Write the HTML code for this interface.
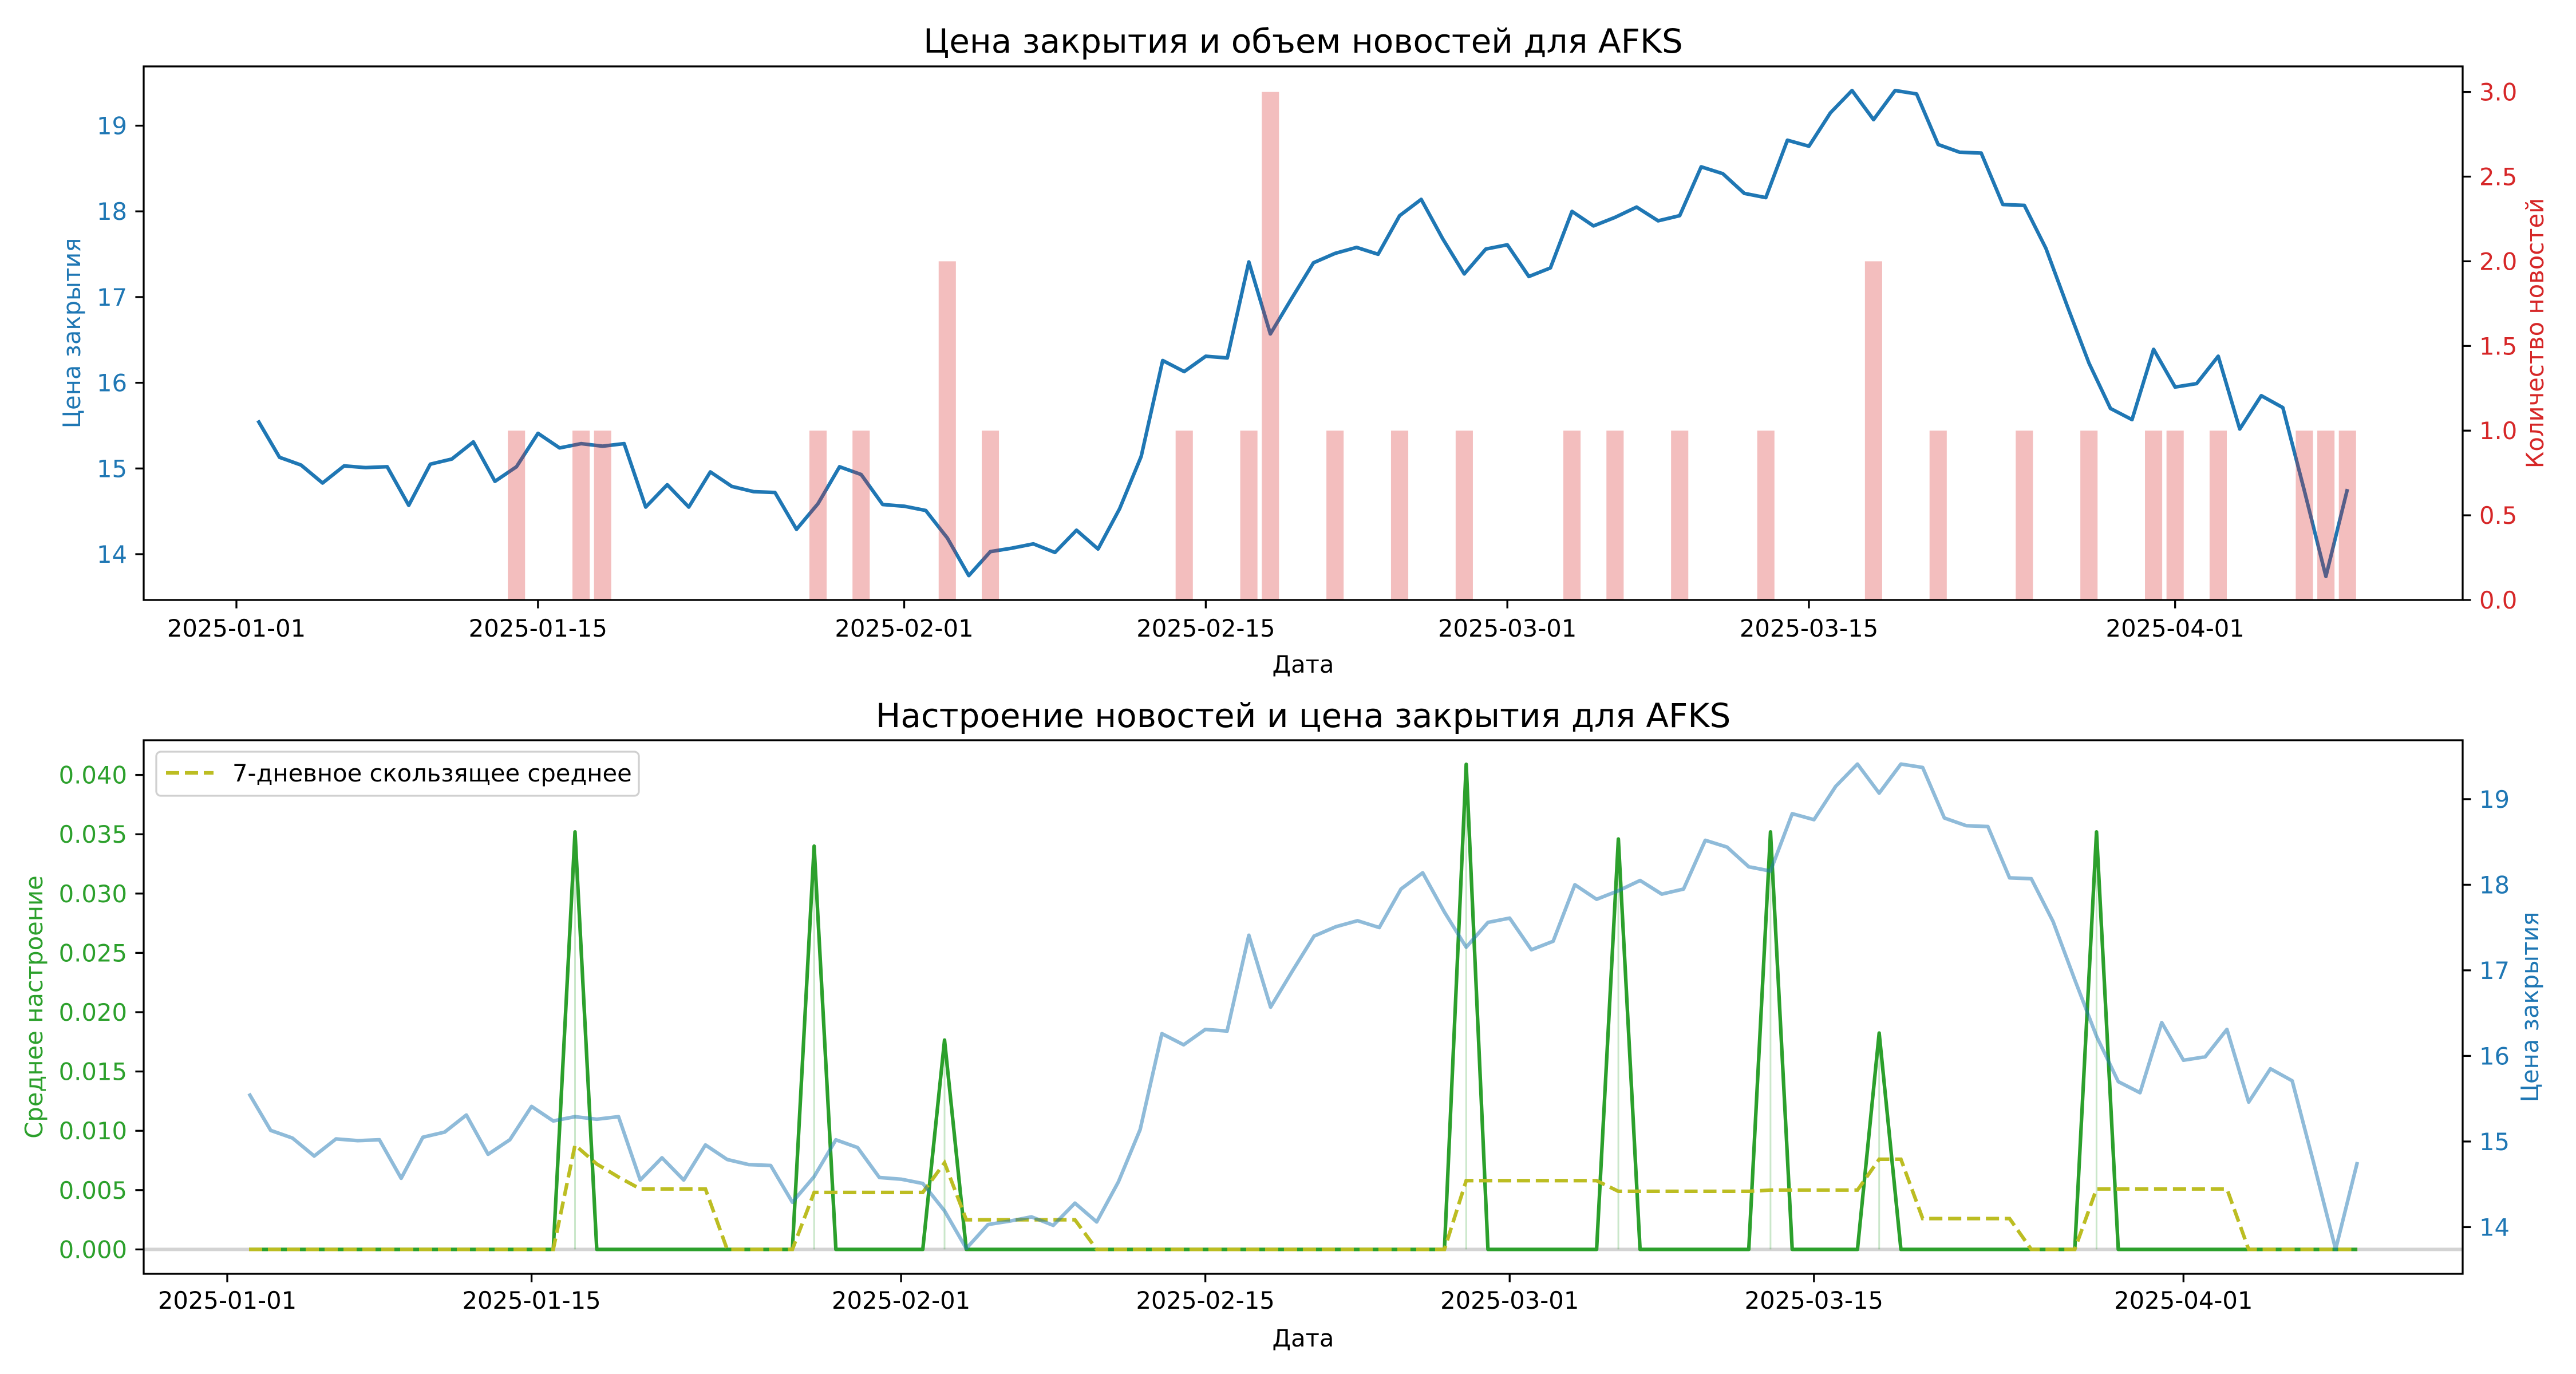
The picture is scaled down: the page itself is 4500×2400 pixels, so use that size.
<!DOCTYPE html>
<html><head><meta charset="utf-8"><style>
html,body{margin:0;padding:0;background:#fff;}
svg{display:block;font-family:"DejaVu Sans","Liberation Sans",sans-serif;}
</style></head><body>
<svg id="chart" xmlns="http://www.w3.org/2000/svg" width="4500" height="2400" viewBox="0 0 4500 2400">
<rect width="4500" height="2400" fill="#fff"/>
<g id="topPanel"></g>
<g id="botPanel"></g>
</svg>
<script>
// ---- data ----
const closes = [15.56,15.13,15.04,14.83,15.03,15.01,15.02,14.57,15.05,15.11,
15.31,14.85,15.02,15.41,15.24,15.29,15.26,15.29,14.55,14.81,
14.55,14.96,14.79,14.73,14.72,14.29,14.59,15.02,14.93,14.58,
14.56,14.51,14.19,13.75,14.03,14.07,14.12,14.02,14.28,14.06,
14.53,15.14,16.26,16.13,16.31,16.29,17.41,16.57,16.99,17.40,
17.51,17.58,17.50,17.95,18.14,17.68,17.27,17.56,17.61,17.24,
17.34,18.00,17.83,17.93,18.05,17.89,17.95,18.52,18.44,18.21,
18.16,18.83,18.76,19.15,19.41,19.07,19.41,19.37,18.78,18.69,
18.68,18.08,18.07,17.57,16.89,16.23,15.70,15.57,16.39,15.95,
15.99,16.31,15.46,15.85,15.71,14.74,13.74,14.76];
const newsIdx = [12,15,16,26,28,32,34,43,46,47,50,53,56,61,63,66,70,75,78,82,85,88,89,91,95,96,97];
const newsCounts = [1,1,1,1,1,2,1,1,1,3,1,1,1,1,1,1,1,2,1,1,1,1,1,1,1,1,1];
const sentIdx = [15,26,32,56,63,70,75,85];
const sentValues = [0.0352,0.0340,0.01765,0.0409,0.0346,0.0352,0.01824,0.0352];
const maValues = [0,0,0,0,0,0,0,0,0,0,0,0,0,0,0,
0.0088,0.0072,0.0061,0.0051,0.0051,0.0051,0.0051,
0,0,0,0,
0.0048,0.0048,0.0048,0.0048,0.0048,0.0048,
0.0073,
0.0025,0.0025,0.0025,0.0025,0.0025,0.0025,
0,0,0,0,0,0,0,0,0,0,0,0,0,0,0,0,0,
0.0058,0.0058,0.0058,0.0058,0.0058,0.0058,0.0058,
0.0049,0.0049,0.0049,0.0049,0.0049,0.0049,0.0049,
0.0050,0.0050,0.0050,0.0050,0.0050,
0.0076,0.0076,
0.0026,0.0026,0.0026,0.0026,0.0026,
0,0,0,
0.0051,0.0051,0.0051,0.0051,0.0051,0.0051,0.0051,
0,0,0,0,0,0];
const xTickDays = [0,14,31,45,59,73,90];
const xTickLabels = ["2025-01-01","2025-01-15","2025-02-01","2025-02-15","2025-03-01","2025-03-15","2025-04-01"];
const priceTicks = [14,15,16,17,18,19];
const countTicks = [0,0.5,1,1.5,2,2.5,3];
const sentTicks = [0,0.005,0.01,0.015,0.02,0.025,0.03,0.035,0.04];

// ---- helpers ----
const NS="http://www.w3.org/2000/svg";
function mk(parent,tag,attrs,text){const e=document.createElementNS(NS,tag);for(const k in attrs)e.setAttribute(k,attrs[k]);if(text!==undefined)e.textContent=text;parent.appendChild(e);return e;}
const L=251,R=4302;
const T1=116,B1=1048;
const xT=d=>413+d*37.63;
const yTP=v=>968-(v-14)*149.7;
const yTC=v=>1048-v*295.8;
const T2=1293,B2=2225;
const xB=d=>397+d*37.97;
const yBS=v=>2182.4-v*20720;
const yBP=v=>2143.4-(v-14)*149.5;

const topG=document.getElementById('topPanel'), botG=document.getElementById('botPanel');

// ===== TOP =====
let pts=closes.map((v,i)=>xT(i+1).toFixed(1)+','+yTP(v).toFixed(1)).join(' ');
let pl=mk(topG,'polyline',{points:pts,fill:'none',stroke:'#1f77b4','stroke-width':6.25,'stroke-linejoin':'round'});


newsIdx.forEach((i,k)=>{
  const x=xT(i+1), w=0.8*37.63;
  const b=mk(topG,'rect',{x:x-w/2,y:yTC(newsCounts[k]),width:w,height:B1-yTC(newsCounts[k]),fill:'rgba(214,39,40,0.3)'});
  
  
});
let fr=mk(topG,'rect',{x:L,y:T1,width:R-L,height:B1-T1,fill:'none',stroke:'#000','stroke-width':3.3});


xTickDays.forEach((d,k)=>{
  const x=xT(d);
  mk(topG,'line',{x1:x,x2:x,y1:B1,y2:B1+14.6,stroke:'#000','stroke-width':3.3});
  const t=mk(topG,'text',{x:x,y:B1+64,'font-size':41.7,'text-anchor':'middle'},xTickLabels[k]);
  
  
});
priceTicks.forEach(v=>{
  const y=yTP(v);
  mk(topG,'line',{x1:L-14.6,x2:L,y1:y,y2:y,stroke:'#000','stroke-width':3.3});
  const t=mk(topG,'text',{x:L-29,y:y+15,'font-size':41.7,'text-anchor':'end',fill:'#1f77b4'},String(v));
  
  
});
countTicks.forEach(v=>{
  const y=yTC(v);
  mk(topG,'line',{x1:R,x2:R+14.6,y1:y,y2:y,stroke:'#000','stroke-width':3.3});
  const t=mk(topG,'text',{x:R+29,y:y+15,'font-size':41.7,fill:'#d62728'},v.toFixed(1));
  
  
});
let tt=mk(topG,'text',{x:(L+R)/2,y:92,'font-size':58,'text-anchor':'middle'},'Цена закрытия и объем новостей для AFKS');


let xl=mk(topG,'text',{x:(L+R)/2,y:1175,'font-size':41.7,'text-anchor':'middle'},'Дата');


let yl=mk(topG,'text',{x:0,y:0,'font-size':41.7,'text-anchor':'middle',fill:'#1f77b4',transform:'translate(140,'+((T1+B1)/2)+') rotate(-90)'},'Цена закрытия');


let yr=mk(topG,'text',{x:0,y:0,'font-size':41.7,'text-anchor':'middle',fill:'#d62728',transform:'translate(4443,'+((T1+B1)/2)+') rotate(-90)'},'Количество новостей');



// ===== BOTTOM =====
let zl=mk(botG,'line',{x1:L,x2:R,y1:yBS(0),y2:yBS(0),stroke:'rgba(128,128,128,0.35)','stroke-width':6});


const sent=closes.map(()=>0);
sentIdx.forEach((i,k)=>{sent[i]=sentValues[k];});
sentIdx.forEach((i,k)=>{
  const x=xB(i+1);
  const v=mk(botG,'line',{x1:x,x2:x,y1:yBS(0),y2:yBS(sentValues[k]),stroke:'rgba(44,160,44,0.25)','stroke-width':3});
  
  
});
let sp=sent.map((v,i)=>xB(i+1).toFixed(1)+','+yBS(v).toFixed(1)).join(' ');
let sl=mk(botG,'polyline',{points:sp,fill:'none',stroke:'#2ca02c','stroke-width':6.25,'stroke-linejoin':'round'});


let mp=maValues.map((v,i)=>xB(i+1).toFixed(1)+','+yBS(v).toFixed(1)).join(' ');
let ml=mk(botG,'polyline',{points:mp,fill:'none',stroke:'#bcbd22','stroke-width':6.25,'stroke-dasharray':'23 10'});


let bp=closes.map((v,i)=>xB(i+1).toFixed(1)+','+yBP(v).toFixed(1)).join(' ');
let bl=mk(botG,'polyline',{points:bp,fill:'none',stroke:'rgba(31,119,180,0.5)','stroke-width':6.25,'stroke-linejoin':'round'});


let fr2=mk(botG,'rect',{x:L,y:T2,width:R-L,height:B2-T2,fill:'none',stroke:'#000','stroke-width':3.3});


xTickDays.forEach((d,k)=>{
  const x=xB(d);
  mk(botG,'line',{x1:x,x2:x,y1:B2,y2:B2+14.6,stroke:'#000','stroke-width':3.3});
  const t=mk(botG,'text',{x:x,y:B2+61,'font-size':41.7,'text-anchor':'middle'},xTickLabels[k]);
  
  
});
sentTicks.forEach(v=>{
  const y=yBS(v);
  mk(botG,'line',{x1:L-14.6,x2:L,y1:y,y2:y,stroke:'#000','stroke-width':3.3});
  const t=mk(botG,'text',{x:L-29,y:y+15,'font-size':41.7,'text-anchor':'end',fill:'#2ca02c'},v.toFixed(3));
  
  
});
priceTicks.forEach(v=>{
  const y=yBP(v);
  mk(botG,'line',{x1:R,x2:R+14.6,y1:y,y2:y,stroke:'#000','stroke-width':3.3});
  const t=mk(botG,'text',{x:R+29,y:y+15,'font-size':41.7,fill:'#1f77b4'},String(v));
  
  
});
let bt=mk(botG,'text',{x:(L+R)/2,y:1270,'font-size':58,'text-anchor':'middle'},'Настроение новостей и цена закрытия для AFKS');


let bx=mk(botG,'text',{x:(L+R)/2,y:2352,'font-size':41.7,'text-anchor':'middle'},'Дата');


let by=mk(botG,'text',{x:0,y:0,'font-size':41.7,'text-anchor':'middle',fill:'#2ca02c',transform:'translate(74,'+((T2+B2)/2)+') rotate(-90)'},'Среднее настроение');


let br=mk(botG,'text',{x:0,y:0,'font-size':41.7,'text-anchor':'middle',fill:'#1f77b4',transform:'translate(4434,'+((T2+B2)/2)+') rotate(-90)'},'Цена закрытия');


const lg=mk(botG,'g',{});


mk(lg,'rect',{x:273,y:1313,width:843,height:77,rx:8,fill:'rgba(255,255,255,0.8)',stroke:'#d0d0d0','stroke-width':3.3});
mk(lg,'line',{x1:290,x2:373,y1:1350,y2:1350,stroke:'#bcbd22','stroke-width':6.25,'stroke-dasharray':'23 10'});
const le=mk(lg,'text',{x:406,y:1365,'font-size':41.7},'7-дневное скользящее среднее');


</script>
</body></html>
